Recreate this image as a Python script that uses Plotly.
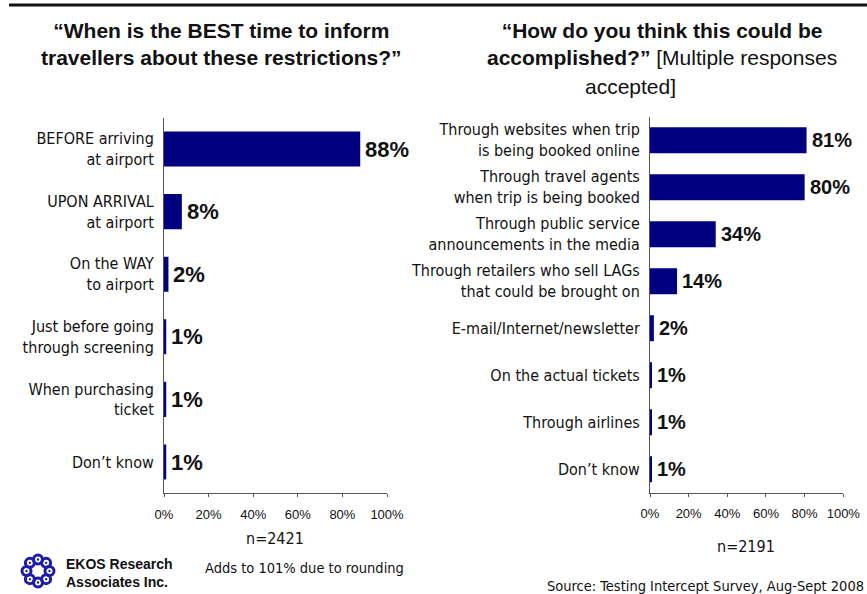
import math
import plotly.graph_objects as go

# Survey results
left_cats = [
    "BEFORE arriving<br>at airport",
    "UPON ARRIVAL<br>at airport",
    "On the WAY<br>to airport",
    "Just before going<br>through screening",
    "When purchasing<br>ticket",
    "Don’t know",
]
left_vals = [88, 8, 2, 1, 1, 1]

right_cats = [
    "Through websites when trip<br>is being booked online",
    "Through travel agents<br>when trip is being booked",
    "Through public service<br>announcements in the media",
    "Through retailers who sell LAGs<br>that could be brought on",
    "E-mail/Internet/newsletter",
    "On the actual tickets",
    "Through airlines",
    "Don’t know",
]
right_vals = [81, 80, 34, 14, 2, 1, 1, 1]

x_ticks = [0, 20, 40, 60, 80, 100]
x_tick_text = ["0%", "20%", "40%", "60%", "80%", "100%"]

W, H = 867, 594
NAVY = "#000080"
AXIS = "#555555"
COND = "DejaVu Sans Condensed, sans-serif"
ARIAL = "Liberation Sans, Arial, sans-serif"


def px(x):
    return x / W


def py(y):
    return 1 - y / H


fig = go.Figure()
fig.add_trace(go.Bar(x=left_vals, y=left_cats, orientation="h", width=0.56,
                     marker=dict(color=NAVY, line=dict(width=0)),
                     xaxis="x", yaxis="y", hoverinfo="skip"))
fig.add_trace(go.Bar(x=right_vals, y=right_cats, orientation="h", width=0.555,
                     marker=dict(color=NAVY, line=dict(width=0)),
                     xaxis="x2", yaxis="y2", hoverinfo="skip"))

xaxis_common = dict(range=[0, 100], tickmode="array", tickvals=x_ticks, ticktext=x_tick_text,
                    showgrid=False, zeroline=False, showline=True,
                    linecolor=AXIS, linewidth=1, ticks="outside", ticklen=3,
                    tickcolor=AXIS, tickfont=dict(family=ARIAL, size=13, color="#111"),
                    ticklabelstandoff=6, fixedrange=True, automargin=False)
yaxis_common = dict(type="category", autorange="reversed", showgrid=False,
                    zeroline=False, showline=True, linecolor=AXIS, linewidth=1,
                    ticks="", tickfont=dict(family=COND, size=16, color="#111"),
                    ticklabelstandoff=6, fixedrange=True, automargin=False)

annotations = []

# Value labels at the end of each bar
for cat, v in zip(left_cats, left_vals):
    annotations.append(dict(x=v, y=cat, xref="x", yref="y", text=f"<b>{v}%</b>",
                            showarrow=False, xanchor="left", yanchor="middle", xshift=3,
                            font=dict(family=ARIAL, size=22, color="#111")))
for cat, v in zip(right_cats, right_vals):
    annotations.append(dict(x=v, y=cat, xref="x2", yref="y2", text=f"<b>{v}%</b>",
                            showarrow=False, xanchor="left", yanchor="middle", xshift=3,
                            font=dict(family=ARIAL, size=20, color="#111")))

# Titles
annotations.append(dict(x=px(222), y=py(44), xref="paper", yref="paper",
                        text="<b>“When is the BEST time to inform<br>travellers about these restrictions?”</b>",
                        showarrow=False, xanchor="center", yanchor="middle",
                        font=dict(family=ARIAL, size=21, color="#111")))
annotations.append(dict(x=px(662), y=py(44), xref="paper", yref="paper",
                        text="<b>“How do you think this could be<br>accomplished?”</b> [Multiple responses",
                        showarrow=False, xanchor="center", yanchor="middle",
                        font=dict(family=ARIAL, size=21, color="#111")))
annotations.append(dict(x=px(630), y=py(87), xref="paper", yref="paper",
                        text="accepted]", showarrow=False, xanchor="center", yanchor="middle",
                        font=dict(family=ARIAL, size=21, color="#111")))

# Footnotes
annotations.append(dict(x=px(275), y=py(538), xref="paper", yref="paper", text="n=2421",
                        showarrow=False, xanchor="center", yanchor="middle",
                        font=dict(family=COND, size=16, color="#111")))
annotations.append(dict(x=px(304), y=py(568), xref="paper", yref="paper",
                        text="Adds to 101% due to rounding",
                        showarrow=False, xanchor="center", yanchor="middle",
                        font=dict(family=COND, size=14.5, color="#111")))
annotations.append(dict(x=px(746), y=py(546), xref="paper", yref="paper", text="n=2191",
                        showarrow=False, xanchor="center", yanchor="middle",
                        font=dict(family=COND, size=16, color="#111")))
annotations.append(dict(x=px(866), y=py(586), xref="paper", yref="paper",
                        text="Source: Testing Intercept Survey, Aug-Sept 2008",
                        showarrow=False, xanchor="right", yanchor="middle",
                        font=dict(family=COND, size=14.5, color="#111")))
annotations.append(dict(x=px(64), y=py(573), xref="paper", yref="paper",
                        text="<b>EKOS Research<br>Associates Inc.</b>", align="left",
                        showarrow=False, xanchor="left", yanchor="middle",
                        font=dict(family=ARIAL, size=14, color="#111")))

shapes = [
    # rule across the top
    dict(type="line", xref="paper", yref="paper", x0=px(9), x1=1.0, y0=py(5), y1=py(5),
         line=dict(color="#111", width=3)),
]

# EKOS logo: a ring of small curls, each a thick ring with a filled core
cx, cy, R, r = 38, 571, 11.5, 4.5
for k in range(8):
    a = 2 * math.pi * k / 8
    x0, y0 = cx + R * math.cos(a), cy + R * math.sin(a)
    shapes.append(dict(type="circle", xref="paper", yref="paper",
                       x0=px(x0 - r), x1=px(x0 + r), y0=py(y0 + r), y1=py(y0 - r),
                       line=dict(color="#1c1ca8", width=3)))
    shapes.append(dict(type="circle", xref="paper", yref="paper",
                       x0=px(x0 - 1.2), x1=px(x0 + 1.2), y0=py(y0 + 1.2), y1=py(y0 - 1.2),
                       fillcolor="#1c1ca8", line=dict(width=0)))

fig.update_layout(
    width=W, height=H, autosize=False,
    margin=dict(l=0, r=0, t=0, b=0, pad=0),
    paper_bgcolor="white", plot_bgcolor="white",
    showlegend=False,
    xaxis=dict(domain=[px(164), px(387)], anchor="y", **xaxis_common),
    yaxis=dict(domain=[py(493.3), py(117.7)], anchor="x", **yaxis_common),
    xaxis2=dict(domain=[px(650), px(843.3)], anchor="y2", **xaxis_common),
    yaxis2=dict(domain=[py(492.7), py(116.7)], anchor="x2", **yaxis_common),
    annotations=annotations,
    shapes=shapes,
)

# keep the page exactly the size of the figure
page_css = (
    "document.documentElement.style.margin='0';"
    "document.documentElement.style.overflow='hidden';"
    "document.body.style.margin='0';"
    "document.body.style.overflow='hidden';"
)

fig.write_html("out.html", config={"responsive": False, "displayModeBar": False},
               post_script=page_css)
